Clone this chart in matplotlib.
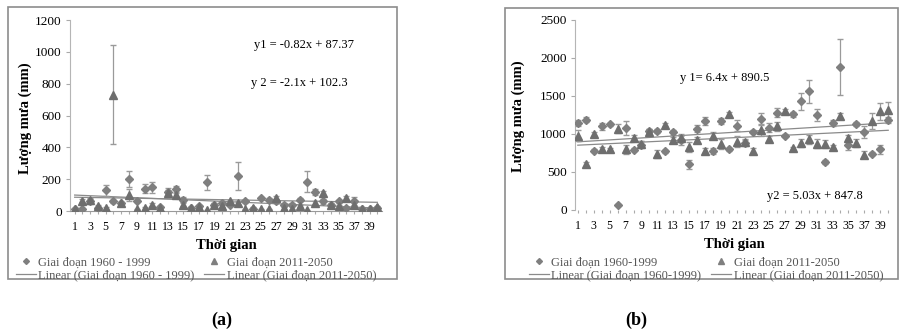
import numpy as np
import matplotlib.pyplot as plt
from matplotlib.patches import Rectangle

plt.rcParams['font.family'] = ['Liberation Serif', 'DejaVu Serif']

# Dữ liệu biểu đồ (a)
thoi_gian = np.arange(1, 41)
a_gd1 = [10, 15, 60, 20, 130, 60, 50, 200, 65, 140, 150, 25, 120, 140, 70, 20, 30, 180, 40, 50,
         40, 220, 60, 15, 80, 70, 60, 40, 40, 70, 185, 120, 60, 35, 60, 20, 60, 10, 15, 20]
a_gd1_err = [5, 5, 15, 5, 35, 10, 8, 50, 10, 30, 35, 8, 25, 20, 15, 5, 8, 45, 10, 10,
             10, 85, 10, 5, 10, 10, 10, 8, 8, 10, 65, 20, 15, 8, 10, 5, 25, 4, 4, 5]
a_gd2 = [10, 65, 70, 30, 20, 730, 50, 100, 10, 20, 40, 20, 110, 100, 40, 20, 25, 5, 40, 30,
         60, 50, 10, 20, 10, 10, 80, 20, 10, 30, 5, 50, 110, 40, 30, 80, 40, 10, 15, 25]
a_gd2_err = [4, 10, 10, 6, 5, 310, 8, 40, 4, 5, 8, 5, 20, 15, 10, 5, 5, 3, 8, 6,
             10, 10, 4, 5, 4, 4, 12, 5, 4, 6, 3, 10, 15, 8, 6, 12, 8, 4, 4, 5]
a_hs1 = (-0.82, 87.37)
a_hs2 = (-2.1, 102.3)

# Dữ liệu biểu đồ (b)
b_gd1 = [1150, 1190, 780, 1100, 1130, 70, 1080, 790, 860, 1040, 1040, 770, 1020, 920, 600, 1070,
         1170, 780, 1170, 800, 1110, 880, 1030, 1200, 1080, 1280, 980, 1260, 1430, 1560, 1250, 630,
         1140, 1880, 850, 1130, 1030, 740, 800, 1190]
b_gd1_err = [40, 30, 20, 50, 20, 10, 90, 20, 50, 30, 30, 20, 30, 60, 60, 50, 50, 40, 40, 20,
             70, 40, 20, 80, 60, 60, 20, 30, 110, 150, 80, 30, 40, 370, 60, 30, 80, 20, 60, 40]
b_gd2 = [980, 600, 1000, 800, 800, 1070, 800, 950, 870, 1030, 740, 1120, 920, 950, 830, 920,
         780, 980, 870, 1260, 900, 900, 780, 1050, 940, 1100, 1300, 810, 880, 930, 870, 870,
         830, 1240, 950, 880, 730, 1170, 1300, 1310]
b_gd2_err = [70, 30, 30, 30, 20, 60, 60, 40, 40, 30, 50, 20, 40, 50, 70, 40, 40, 40, 70, 30,
             70, 40, 40, 80, 40, 60, 30, 20, 50, 60, 60, 50, 20, 30, 40, 50, 40, 100, 110, 110]
b_hs1 = (6.4, 890.5)
b_hs2 = (5.03, 847.8)

W, H = 900, 333
fig = plt.figure(figsize=(9, 3.33), dpi=100)

def px(x0, y0, x1, y1):
    return [x0 / W, 1 - y1 / H, (x1 - x0) / W, (y1 - y0) / H]

def ve_bieu_do(ax, gd1, gd1_err, gd2, gd2_err, hs1, hs2, ymax, step, xmin, show_xline):
    grey = '#7f7f7f'
    x = thoi_gian
    e1 = ax.errorbar(x, gd1, yerr=gd1_err, fmt='D', ms=4.5, color=grey, ecolor='#9a9a9a',
                     elinewidth=0.9, capsize=2, zorder=3)
    e2 = ax.errorbar(x, gd2, yerr=gd2_err, fmt='^', ms=5.5, color='#6e6e6e', ecolor='#9a9a9a',
                     elinewidth=0.9, capsize=2, zorder=3)
    for e in (e1, e2):
        for c in e[1]:
            c.set_color('#222222')
    ax.plot(x, hs1[0] * x + hs1[1], color='#8a8a8a', lw=0.9, zorder=2)
    ax.plot(x, hs2[0] * x + hs2[1], color='#8a8a8a', lw=0.9, zorder=2)
    ax.set_ylim(0, ymax)
    ax.set_yticks(np.arange(0, ymax + 1, step))
    ax.set_xlim(xmin, 40.6)
    ax.set_xticks(x)
    ax.set_xticklabels([str(v) if v % 2 == 1 else '' for v in x])
    ax.tick_params(axis='x', length=2.5, color='#aaaaaa', labelsize=8.5, pad=5)
    ax.tick_params(axis='y', length=3, color='#aaaaaa', labelsize=9.5, pad=3)
    for s in ('top', 'right'):
        ax.spines[s].set_visible(False)
    ax.spines['left'].set_color('#b5b5b5')
    ax.spines['bottom'].set_color('#9a9a9a')
    ax.spines['bottom'].set_visible(show_xline)
    ax.set_xlabel('Thời gian', fontsize=10.5, fontweight='bold', labelpad=4)

# Khung viền
fig.patches.append(Rectangle((8 / W, 1 - 279 / H), 389 / W, 272 / H, transform=fig.transFigure,
                             fill=False, ec='#8c8c8c', lw=1.2))
fig.patches.append(Rectangle((505 / W, 1 - 279 / H), 393 / W, 271 / H, transform=fig.transFigure,
                             fill=False, ec='#8c8c8c', lw=1.2))

# (a)
ax1 = fig.add_axes(px(70, 20, 382, 211))
ve_bieu_do(ax1, a_gd1, a_gd1_err, a_gd2, a_gd2_err, a_hs1, a_hs2, 1200, 200, 0.4, True)
ax1.text(0.59, 0.87, 'y1 = -0.82x + 87.37', transform=ax1.transAxes, fontsize=9, va='center')
ax1.text(0.58, 0.67, 'y 2 = -2.1x + 102.3', transform=ax1.transAxes, fontsize=9, va='center')
fig.text(25 / W, 1 - 118 / H, 'Lượng mưa (mm)', rotation=90, fontsize=10.5, fontweight='bold',
         ha='center', va='center')

# (b)
ax2 = fig.add_axes(px(575, 20, 893, 210))
ve_bieu_do(ax2, b_gd1, b_gd1_err, b_gd2, b_gd2_err, b_hs1, b_hs2, 2500, 500, 0.65, False)
ax2.text(0.33, 0.695, 'y 1= 6.4x + 890.5', transform=ax2.transAxes, fontsize=9, va='center')
ax2.text(0.605, 0.075, 'y2 = 5.03x + 847.8', transform=ax2.transAxes, fontsize=9, va='center')
fig.text(518 / W, 1 - 116 / H, 'Lượng mưa (mm)', rotation=90, fontsize=10.5, fontweight='bold',
         ha='center', va='center')

# Chú giải
def chu_giai(cx, labels):
    grey = '#7f7f7f'
    h = [plt.Line2D([], [], ls='none', marker='D', ms=3, color=grey),
         plt.Line2D([], [], color='#8a8a8a', lw=0.9),
         plt.Line2D([], [], ls='none', marker='^', ms=4, color=grey),
         plt.Line2D([], [], color='#8a8a8a', lw=0.9)]
    fig.legend(h, labels, loc='center', bbox_to_anchor=(cx / W, 1 - 269 / H), ncol=2,
               frameon=False, fontsize=9, handlelength=1.6, handletextpad=0.2,
               columnspacing=0.8, labelspacing=0.1, borderpad=0, labelcolor='#555555')

chu_giai(196, ['Giai đoạn 1960 - 1999', 'Linear (Giai đoạn 1960 - 1999)',
               'Giai đoạn 2011-2050', 'Linear (Giai đoạn 2011-2050)'])
chu_giai(706, ['Giai đoạn 1960-1999', 'Linear (Giai đoạn 1960-1999)',
               'Giai đoạn 2011-2050', 'Linear (Giai đoạn 2011-2050)'])

fig.text(222 / W, 1 - 320 / H, '(a)', fontsize=13, fontweight='bold', ha='center', va='center')
fig.text(636 / W, 1 - 320 / H, '(b)', fontsize=13, fontweight='bold', ha='center', va='center')

fig.savefig('out.png', dpi=100)
